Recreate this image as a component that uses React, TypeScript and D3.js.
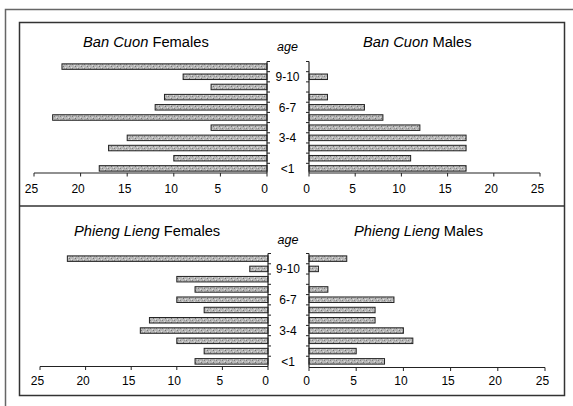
import React from "react";
import * as d3 from "d3";

const categories = ["<1", "1-2", "2-3", "3-4", "4-5", "5-6", "6-7", "7-8", "8-9", "9-10", ">10"];
const shownAgeLabels = ["<1", "3-4", "6-7", "9-10"];
const xTicks = [0, 5, 10, 15, 20, 25];

const banCuonFemales = [18, 10, 17, 15, 6, 23, 12, 11, 6, 9, 22];
const banCuonMales = [17, 11, 17, 17, 12, 8, 6, 2, 0, 2, 0];
const phiengLiengFemales = [8, 7, 10, 14, 13, 7, 10, 8, 10, 2, 22];
const phiengLiengMales = [8, 5, 11, 10, 7, 7, 9, 2, 0, 1, 4];

const FONT = "'Liberation Sans', Arial, Helvetica, sans-serif";

type PanelCfg = {
  village: string;
  females: number[];
  males: number[];
  fRange: [number, number];
  mRange: [number, number];
  yRange: [number, number];
  fAxisY: number;
  mAxisY: number;
  tickLabelY: number;
  titleY: number;
  fTitleX: number;
  mTitleX: number;
  ageY: number;
};

const panels: PanelCfg[] = [
  {
    village: "Ban Cuon",
    females: banCuonFemales,
    males: banCuonMales,
    fRange: [267, 34],
    mRange: [309, 540],
    yRange: [173.5, 61.5],
    fAxisY: 173,
    mAxisY: 173,
    tickLabelY: 193,
    titleY: 46.5,
    fTitleX: 83,
    mTitleX: 363,
    ageY: 51,
  },
  {
    village: "Phieng Lieng",
    females: phiengLiengFemales,
    males: phiengLiengMales,
    fRange: [268, 40],
    mRange: [309, 545],
    yRange: [366.5, 253.5],
    fAxisY: 366.5,
    mAxisY: 367.5,
    tickLabelY: 385,
    titleY: 236,
    fTitleX: 74,
    mTitleX: 354,
    ageY: 243.5,
  },
];

function Panel({ cfg }: { cfg: PanelCfg }) {
  const xF = d3.scaleLinear().domain([0, 25]).range(cfg.fRange);
  const xM = d3.scaleLinear().domain([0, 25]).range(cfg.mRange);
  const y = d3.scaleBand<string>().domain(categories).range(cfg.yRange).paddingInner(0);
  const bw = y.bandwidth();
  const bh = 5.5;
  const yTop = Math.min(...cfg.yRange);
  const boundaries = categories.map((c) => y(c)!).concat([yTop]);
  const labelX = (xF(0) + xM(0)) / 2 - 0.5;
  return (
    <g>
      <text x={cfg.fTitleX} y={cfg.titleY} fontSize={14.7} fontFamily={FONT} fill="#000">
        <tspan fontStyle="italic">{cfg.village}</tspan>
        <tspan> Females</tspan>
      </text>
      <text x={cfg.mTitleX} y={cfg.titleY} fontSize={14.7} fontFamily={FONT} fill="#000">
        <tspan fontStyle="italic">{cfg.village}</tspan>
        <tspan> Males</tspan>
      </text>
      <text x={labelX} y={cfg.ageY} fontSize={12.5} fontStyle="italic" textAnchor="middle" fontFamily={FONT} fill="#000">
        age
      </text>

      {categories.map((c, i) =>
        cfg.females[i] > 0 ? (
          <rect
            key={"f" + c}
            x={xF(cfg.females[i])}
            y={y(c)! + (bw - bh) / 2}
            width={xF(0) - xF(cfg.females[i])}
            height={bh}
            fill="url(#speckle)"
            stroke="#222"
            strokeWidth={1}
          />
        ) : null
      )}
      {categories.map((c, i) =>
        cfg.males[i] > 0 ? (
          <rect
            key={"m" + c}
            x={xM(0)}
            y={y(c)! + (bw - bh) / 2}
            width={xM(cfg.males[i]) - xM(0)}
            height={bh}
            fill="url(#speckle)"
            stroke="#222"
            strokeWidth={1}
          />
        ) : null
      )}

      <line x1={xF(0)} x2={xF(0)} y1={yTop} y2={cfg.fAxisY} stroke="#222" strokeWidth={1.2} />
      <line x1={xM(0)} x2={xM(0)} y1={yTop} y2={cfg.mAxisY} stroke="#222" strokeWidth={1.2} />
      {boundaries.map((b, i) => (
        <g key={"yt" + i}>
          <line x1={xF(0)} x2={xF(0) + 3} y1={b} y2={b} stroke="#222" strokeWidth={1} />
          <line x1={xM(0) - 3} x2={xM(0)} y1={b} y2={b} stroke="#222" strokeWidth={1} />
        </g>
      ))}
      {shownAgeLabels.map((c) => (
        <text
          key={"yl" + c}
          x={labelX}
          y={y(c)! + bw / 2}
          dy="0.36em"
          fontSize={12}
          textAnchor="middle"
          fontFamily={FONT}
          fill="#000"
        >
          {c}
        </text>
      ))}

      <line x1={xF(25)} x2={xF(0)} y1={cfg.fAxisY} y2={cfg.fAxisY} stroke="#222" strokeWidth={1.2} />
      <line x1={xM(0)} x2={xM(25)} y1={cfg.mAxisY} y2={cfg.mAxisY} stroke="#222" strokeWidth={1.2} />
      {xTicks.map((t) => (
        <g key={"xt" + t}>
          <line x1={xF(t)} x2={xF(t)} y1={cfg.fAxisY} y2={cfg.fAxisY + 3.5} stroke="#222" strokeWidth={1} />
          <line x1={xM(t)} x2={xM(t)} y1={cfg.mAxisY} y2={cfg.mAxisY + 3.5} stroke="#222" strokeWidth={1} />
          <text x={xF(t) - 2.5} y={cfg.tickLabelY} fontSize={12} textAnchor="middle" fontFamily={FONT} fill="#000">
            {t}
          </text>
          <text x={xM(t) - 2.5} y={cfg.tickLabelY} fontSize={12} textAnchor="middle" fontFamily={FONT} fill="#000">
            {t}
          </text>
        </g>
      ))}
    </g>
  );
}

export default function App() {
  return (
    <svg
      width={573}
      height={406}
      style={{ position: "absolute", left: 0, top: 0, background: "#fff" }}
    >
      <defs>
        <pattern id="speckle" width={6} height={4} patternUnits="userSpaceOnUse">
          <rect width={6} height={4} fill="#b8b8b8" />
          <rect x={0} y={0} width={1} height={1} fill="#808080" />
          <rect x={3} y={2} width={1} height={1} fill="#767676" />
          <rect x={2} y={1} width={1} height={1} fill="#dcdcdc" />
          <rect x={5} y={3} width={1} height={1} fill="#e0e0e0" />
          <rect x={4} y={0} width={1} height={1} fill="#9c9c9c" />
        </pattern>
      </defs>
      <rect width={573} height={406} fill="#fff" />
      <path d="M5.5,406 V9.5 H573" fill="none" stroke="#666" strokeWidth={1.5} />
      <rect x={19.5} y={22.5} width={545} height={373} fill="none" stroke="#333" strokeWidth={1.5} />
      <line x1={19.5} x2={564.5} y1={206} y2={206} stroke="#333" strokeWidth={1.5} />
      {panels.map((p) => (
        <Panel key={p.village} cfg={p} />
      ))}
    </svg>
  );
}
